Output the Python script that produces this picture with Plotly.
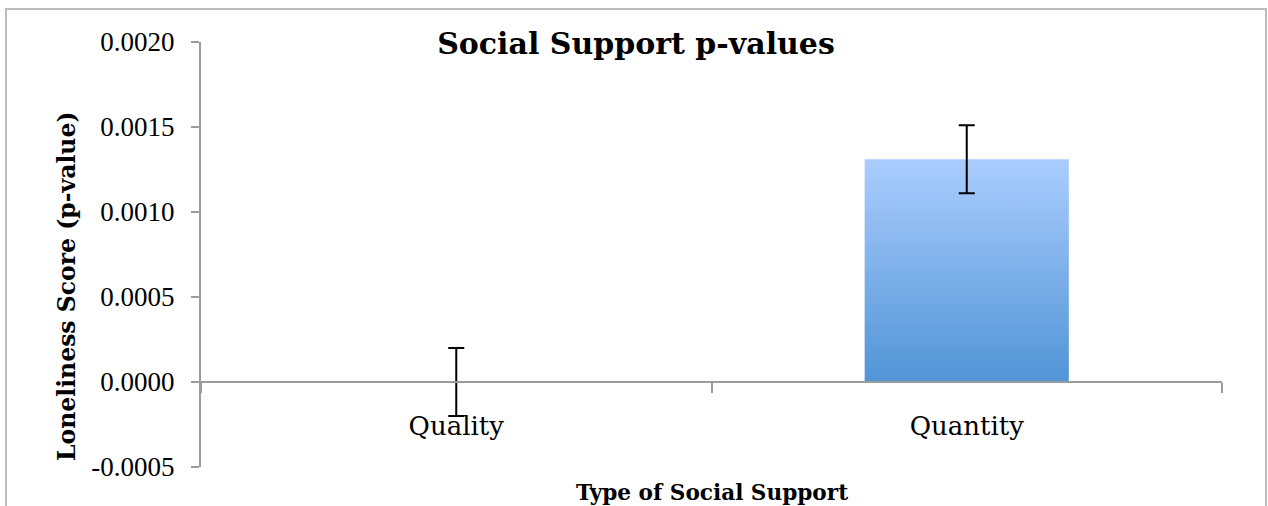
import plotly.graph_objects as go

# ---- data ----
categories = ["Quality", "Quantity"]
pvalues = [0.0, 0.00131]
errors = [0.0002, 0.0002]
y_ticks = [-0.0005, 0.0, 0.0005, 0.0010, 0.0015, 0.0020]
y_tick_labels = ["-0.0005", "0.0000", "0.0005", "0.0010", "0.0015", "0.0020"]

# ---- style ----
BAR_WIDTH = 0.4
AXIS_COLOR = "#9c9c9c"
FONT_NUM = "Liberation Serif"
FONT = "DejaVu Serif"
W, H = 1268, 506
ML, MR, MT, MB = 201, 46, 42, 39
PW, PH = W - ML - MR, H - MT - MB

def px_x(p):
    return (p - ML) / PW

def px_y(p):
    return (H - MB - p) / PH

fig = go.Figure()

# gradient-filled bars (polygon from category index and value)
for i, v in enumerate(pvalues):
    if v == 0:
        continue
    x0, x1 = i - BAR_WIDTH / 2, i + BAR_WIDTH / 2
    fig.add_trace(go.Scatter(
        x=[x0, x1, x1, x0, x0], y=[0, 0, v, v, 0],
        mode="lines", fill="toself", line=dict(width=0, color="rgba(0,0,0,0)"),
        fillgradient=dict(type="vertical", start=0, stop=v,
                          colorscale=[[0, "#5194d6"], [1, "#abcdfe"]]),
        hoverinfo="skip", showlegend=False, xaxis="x", yaxis="y"))

# bars (transparent) carrying the error bars on the category axis
fig.add_trace(go.Bar(
    x=categories, y=pvalues, width=BAR_WIDTH,
    marker=dict(color="rgba(0,0,0,0)", line=dict(width=0)),
    error_y=dict(type="data", array=errors, visible=True,
                 color="black", thickness=2, width=8),
    showlegend=False, xaxis="x2", yaxis="y"))

zero_pos = (0 - y_ticks[0]) / (y_ticks[-1] - y_ticks[0])

fig.update_layout(
    width=W, height=H,
    margin=dict(l=ML, r=MR, t=MT, b=MB, autoexpand=False),
    paper_bgcolor="white", plot_bgcolor="white",
    font=dict(family=FONT, color="black"),
    showlegend=False,
    title=dict(text="<b>Social Support p-values</b>", x=636 / W, xref="container",
               xanchor="center", y=1 - 43 / H, yref="container", yanchor="middle",
               font=dict(family=FONT, size=30, color="black")),
    xaxis=dict(domain=[0, 1], range=[-0.5, 1.5], visible=False, fixedrange=True),
    xaxis2=dict(overlaying="x", type="category", range=[-0.5, 1.5],
                anchor="free", position=zero_pos,
                showline=True, linecolor=AXIS_COLOR, linewidth=2,
                ticks="outside", ticklen=10, tickwidth=2, tickcolor=AXIS_COLOR,
                tickson="boundaries", showgrid=False, zeroline=False,
                tickfont=dict(family=FONT, size=26, color="black"),
                ticklabelstandoff=21),
    yaxis=dict(range=[y_ticks[0], y_ticks[-1]], tickvals=y_ticks, ticktext=y_tick_labels,
               showline=True, linecolor=AXIS_COLOR, linewidth=2,
               ticks="outside", ticklen=8, tickwidth=2, tickcolor=AXIS_COLOR,
               showgrid=False, zeroline=False,
               tickfont=dict(family=FONT_NUM, size=27, color="black"),
               ticklabelstandoff=11),
    annotations=[
        dict(text="<b>Loneliness Score (p-value)</b>", textangle=-90,
             xref="paper", yref="paper", x=px_x(67), y=px_y(286),
             xanchor="center", yanchor="middle", showarrow=False,
             font=dict(family=FONT, size=23.5, color="black")),
        dict(text="<b>Type of Social Support</b>",
             xref="paper", yref="paper", x=0.5, y=px_y(492),
             xanchor="center", yanchor="middle", showarrow=False,
             font=dict(family=FONT, size=21.6, color="black")),
    ],
    shapes=[dict(type="rect", xref="paper", yref="paper",
                 x0=px_x(6), x1=px_x(1266), y0=px_y(530), y1=px_y(9),
                 line=dict(color="#bcbcbc", width=2), fillcolor="rgba(0,0,0,0)",
                 layer="below")],
)

fig.write_html("out.html", config={"displayModeBar": False},
               post_script="document.body.style.margin='0';document.body.style.overflow='hidden';")
